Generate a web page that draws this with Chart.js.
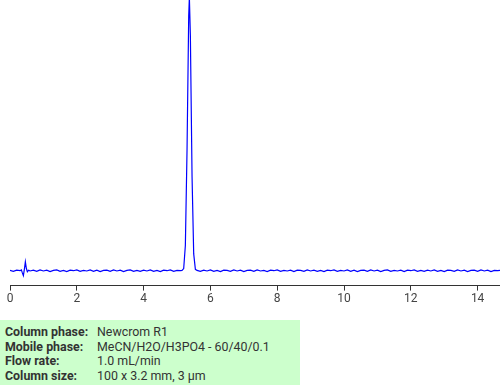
<!DOCTYPE html>
<html>
<head>
<meta charset="utf-8">
<script src="https://cdn.jsdelivr.net/npm/chart.js@4/dist/chart.umd.min.js"></script>
<style>
  body { margin: 0; width: 500px; height: 385px; background: #fff; position: relative; overflow: hidden; font-family: Roboto, sans-serif; }
  #wrap { position: absolute; left: 0; top: 0; width: 500px; height: 307px; }
  #info { position: absolute; left: 0; top: 320px; width: 300px; height: 65px; background: #ccffcc; box-sizing: border-box; padding: 5px 0 0 5px; }
  #info table { border-collapse: collapse; font-size: 12.4px; color: #333; }
  #info td { padding: 0; height: 14.7px; line-height: 14.7px; white-space: nowrap; }
  #info td.lbl { font-weight: bold; width: 92px; }
</style>
</head>
<body>
<div id="wrap"><canvas id="chrom"></canvas></div>
<div id="info">
  <table>
    <tr><td class="lbl">Column phase:</td><td>Newcrom R1</td></tr>
    <tr><td class="lbl">Mobile phase:</td><td>MeCN/H2O/H3PO4 - 60/40/0.1</td></tr>
    <tr><td class="lbl">Flow rate:</td><td>1.0 mL/min</td></tr>
    <tr><td class="lbl">Column size:</td><td>100 x 3.2 mm, 3 µm</td></tr>
  </table>
</div>
<script>
// retention time (min)
const times = [
  0, 0.1, 0.2, 0.3, 0.34, 0.37, 0.4, 0.43, 0.46, 0.49, 0.52, 0.56, 0.6,
  0.7, 0.8, 0.9, 1.0, 1.1, 1.2, 1.3, 1.4, 1.5, 1.6, 1.7, 1.8, 1.9,
  2.0, 2.1, 2.2, 2.3, 2.4, 2.5, 2.6, 2.7, 2.8, 2.9,
  3.0, 3.1, 3.2, 3.3, 3.4, 3.5, 3.6, 3.7, 3.8, 3.9,
  4.0, 4.1, 4.2, 4.3, 4.4, 4.5, 4.6, 4.7, 4.8, 4.9,
  5.0, 5.1, 5.15, 5.2, 5.25, 5.3, 5.35, 5.37, 5.4, 5.45, 5.5, 5.55, 5.6,
  5.7, 5.8, 5.9, 6.0, 6.1, 6.2, 6.3, 6.4, 6.5, 6.6, 6.7, 6.8, 6.9,
  7.0, 7.1, 7.2, 7.3, 7.4, 7.5, 7.6, 7.7, 7.8, 7.9,
  8.0, 8.1, 8.2, 8.3, 8.4, 8.5, 8.6, 8.7, 8.8, 8.9,
  9.0, 9.1, 9.2, 9.3, 9.4, 9.5, 9.6, 9.7, 9.8, 9.9,
  10.0, 10.1, 10.2, 10.3, 10.4, 10.5, 10.6, 10.7, 10.8, 10.9,
  11.0, 11.1, 11.2, 11.3, 11.4, 11.5, 11.6, 11.7, 11.8, 11.9,
  12.0, 12.1, 12.2, 12.3, 12.4, 12.5, 12.6, 12.7, 12.8, 12.9,
  13.0, 13.1, 13.2, 13.3, 13.4, 13.5, 13.6, 13.7, 13.8, 13.9,
  14.0, 14.1, 14.2, 14.3, 14.4, 14.5, 14.6, 14.7
];

// detector signal (% of peak height)
const signal = [
  0.1, -0.2, 0.2, 0.0, 0.3, -0.8, -1.8, 0.5, 3.3, 0.8, -0.4, 0.2, -0.1,
  0.2, -0.2, 0.3, -0.1, 0.2, -0.3, 0.1, 0.3, -0.2, 0.1, -0.3, 0.2, 0.0,
  0.3, -0.2, 0.1, -0.1, 0.3, -0.2, 0.2, -0.3, 0.1, 0.2,
  -0.2, 0.3, -0.1, 0.2, -0.3, 0.1, 0.3, -0.2, 0.1, -0.2,
  0.2, -0.1, 0.3, -0.2, 0.1, -0.3, 0.2, 0.0, 0.3, -0.2,
  0.1, 0.0, 0.1, 0.8, 9.3, 44.5, 94, 101, 87, 35, 6.2, 0.5, 0.1,
  -0.2, 0.2, -0.1, 0.3, -0.2, 0.1, -0.3, 0.2, 0.1, -0.2, 0.3, -0.1, 0.2,
  -0.3, 0.1, 0.2, -0.2, 0.3, -0.1, 0.1, -0.3, 0.2, 0.0,
  0.3, -0.2, 0.1, -0.1, 0.2, -0.3, 0.2, 0.1, -0.2, 0.3,
  -0.1, 0.2, -0.2, 0.1, -0.3, 0.2, 0.0, 0.3, -0.2, 0.1,
  -0.1, 0.3, -0.2, 0.2, -0.3, 0.1, 0.2, -0.2, 0.3, -0.1,
  0.2, -0.3, 0.1, 0.3, -0.2, 0.1, -0.1, 0.2, -0.3, 0.2,
  0.0, 0.3, -0.2, 0.1, -0.2, 0.2, -0.1, 0.3, -0.2, 0.1,
  -0.3, 0.2, 0.1, -0.2, 0.3, -0.1, 0.2, -0.3, 0.1, 0.2,
  -0.2, 0.3, -0.1, 0.2, -0.3, 0.1, 0.0, 0.2
];

const xTicks = [0, 2, 4, 6, 8, 10, 12, 14];

const points = times.map((t, i) => ({ x: t, y: signal[i] }));

new Chart(document.getElementById("chrom"), {
  type: "line",
  data: {
    datasets: [{
      data: points,
      borderColor: "#0000ff",
      borderWidth: 1.2,
      pointRadius: 0,
      tension: 0,
      fill: false
    }]
  },
  options: {
    responsive: true,
    maintainAspectRatio: false,
    animation: false,
    layout: { padding: { left: 10, right: 0, top: 0, bottom: 0 } },
    plugins: { legend: { display: false }, tooltip: { enabled: false } },
    scales: {
      x: {
        type: "linear",
        min: 0,
        max: 14.67,
        afterBuildTicks: axis => { axis.ticks = xTicks.map(v => ({ value: v })); },
        ticks: { color: "#444", font: { family: "Roboto", size: 12 }, padding: 1, maxRotation: 0 },
        grid: { display: true, drawOnChartArea: false, drawTicks: true, tickLength: 5, color: "#333" },
        border: { display: true, color: "#333", width: 1 }
      },
      y: {
        display: false,
        min: -5.5,
        max: 100
      }
    }
  }
});
</script>
</body>
</html>
